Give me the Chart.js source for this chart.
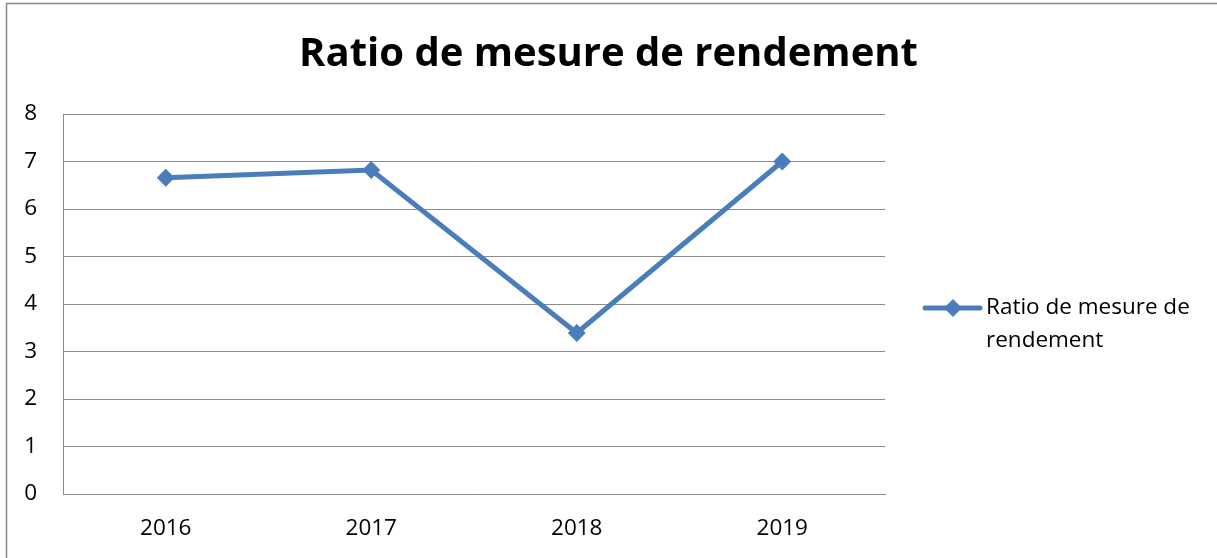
<!DOCTYPE html>
<html>
<head>
<meta charset="utf-8">
<script src="https://cdn.jsdelivr.net/npm/chart.js@4"></script>
<style>
  html, body { margin: 0; padding: 0; background: #fff; }
  #wrap { width: 1217px; height: 558px; }
</style>
</head>
<body>
<div id="wrap"><canvas id="ratio"></canvas></div>
<script>
const years = ["2016", "2017", "2018", "2019"];
const ratios = [6.66, 6.82, 3.39, 7.0];
const seriesLabel = "Ratio de mesure de rendement";
const chartTitle = "Ratio de mesure de rendement";

const blue = "#4a7ebb";
const grey = "#8a8a8a";
const font = "'Open Sans', 'DejaVu Sans', sans-serif";

// frame + legend drawn by hand (legend text wraps like in the Excel chart)
const excelBits = {
  id: "excelBits",
  beforeDraw(chart) {
    const ctx = chart.ctx;
    ctx.save();
    ctx.strokeStyle = grey;
    ctx.lineWidth = 1.5;
    ctx.beginPath();
    ctx.moveTo(6.5, chart.height);
    ctx.lineTo(6.5, 3.5);
    ctx.lineTo(chart.width, 3.5);
    ctx.stroke();
    ctx.restore();
  },
  afterDraw(chart) {
    const ctx = chart.ctx;
    const area = chart.chartArea;
    const x0 = area.right + 40;
    const y0 = 308;
    ctx.save();
    ctx.strokeStyle = blue;
    ctx.lineWidth = 5;
    ctx.lineCap = "round";
    ctx.beginPath();
    ctx.moveTo(x0, y0);
    ctx.lineTo(x0 + 55, y0);
    ctx.stroke();
    ctx.fillStyle = blue;
    ctx.beginPath();
    ctx.moveTo(x0 + 28, y0 - 9);
    ctx.lineTo(x0 + 37, y0);
    ctx.lineTo(x0 + 28, y0 + 9);
    ctx.lineTo(x0 + 19, y0);
    ctx.closePath();
    ctx.fill();

    ctx.fillStyle = "#000";
    ctx.font = "22.5px " + font;
    ctx.textBaseline = "middle";
    // wrap label
    let lines = [], cur = "";
    seriesLabel.split(" ").forEach((w) => {
      let t = cur ? cur + " " + w : w;
      if (ctx.measureText(t).width > 220 && cur) {
        lines.push(cur);
        cur = w;
      } else cur = t;
    });
    lines.push(cur);
    lines.forEach((l, i) => ctx.fillText(l, x0 + 61, y0 + i * 33));
    ctx.restore();
  },
};

const canvas = document.getElementById("ratio");
const myChart = new Chart(canvas.getContext("2d"), {
  type: "line",
  data: {
    labels: years,
    datasets: [
      {
        label: seriesLabel,
        data: ratios,
        borderColor: blue,
        backgroundColor: blue,
        borderWidth: 5,
        pointStyle: "rectRot",
        pointRadius: 9,
        pointHoverRadius: 9,
        pointBorderWidth: 0,
        tension: 0,
      },
    ],
  },
  options: {
    responsive: true,
    maintainAspectRatio: false,
    animation: false,
    layout: { padding: 0 },
    plugins: {
      legend: { display: false },
      tooltip: { enabled: false },
      title: {
        display: true,
        text: chartTitle,
        color: "#000",
        font: { family: font, size: 40, weight: "bold", lineHeight: 1.2 },
        padding: { top: 31, bottom: 35 },
      },
    },
    scales: {
      x: {
        offset: true,
        grid: { display: false, drawTicks: false },
        border: { display: true, color: grey, width: 1 },
        ticks: { color: "#000", font: { family: font, size: 22.5 }, padding: 21 },
        afterFit: (scale) => { scale.height = 64; },
      },
      y: {
        min: 0,
        max: 8,
        grid: { color: grey, lineWidth: 1, drawTicks: false },
        border: { display: true, color: grey, width: 1 },
        ticks: { stepSize: 1, color: "#000", font: { family: font, size: 22.5 }, padding: 26 },
        afterFit: (scale) => { scale.width = 63; },
      },
      // empty right-hand axis that just reserves the legend's space
      legendSpace: {
        position: "right",
        display: true,
        grid: { display: false, drawTicks: false },
        border: { display: false },
        ticks: { display: false },
        afterFit: (scale) => { scale.width = 332; },
      },
    },
  },
  plugins: [excelBits],
});
</script>
</body>
</html>
